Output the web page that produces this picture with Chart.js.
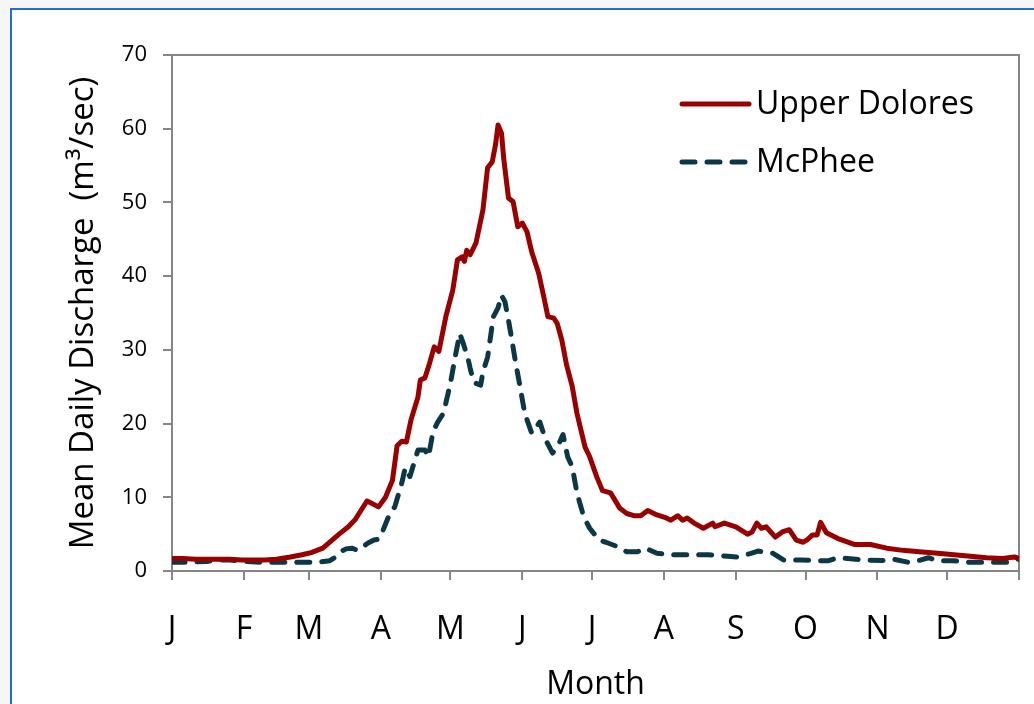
<!DOCTYPE html>
<html>
<head>
<meta charset="utf-8">
<script src="https://cdn.jsdelivr.net/npm/chart.js@4.4.0/dist/chart.umd.min.js"></script>
<style>
  html, body { margin: 0; padding: 0; background: #f6f6f6; }
  #wrap { position: relative; width: 1034px; height: 704px; overflow: hidden; }
  #frame { position: absolute; left: 10px; top: 8px; width: 1100px; height: 800px;
           background: #fff; border-left: 2px solid #1f6fce; border-top: 2px solid #1f6fce; }
  #flowChart { position: absolute; left: 0; top: 0; }
</style>
</head>
<body>
<div id="wrap">
  <div id="frame"></div>
  <canvas id="flowChart" width="1034" height="704"></canvas>
</div>
<script>
// ========== DATA ==========
const monthStarts = [0, 31, 59, 90, 120, 151, 181, 212, 243, 273, 304, 334, 365];
const monthLabels = ['J', 'F', 'M', 'A', 'M', 'J', 'J', 'A', 'S', 'O', 'N', 'D', ''];
const yTicks = [0, 10, 20, 30, 40, 50, 60, 70];

// Upper Dolores (day of year, m3/sec)
const doloresDays = [0, 5, 10, 15, 20, 25, 30, 35, 40, 45, 51, 56, 60, 65, 69, 72, 76, 79, 81, 84,
  86, 89, 92, 95, 97, 99, 101, 103, 106, 107, 109, 111, 113, 115, 118, 121, 123, 125, 126, 127,
  128.5, 131, 134, 136, 138, 139.5, 140.5, 142, 143, 145, 147, 149, 151, 153, 155, 158, 160, 162, 164.5, 166,
  168, 170, 172.5, 174.5, 178, 180, 183, 185.5, 189, 193, 196, 199, 202, 205, 209, 213, 215, 218, 220, 222,
  225, 229, 233, 234, 238, 243, 248, 250, 252, 254, 256, 260, 263, 266, 269, 272, 274, 276, 278, 279.5,
  282, 287, 294, 301, 308, 315, 322, 330, 337, 344, 351, 358, 363, 365];
const doloresQ = [1.7, 1.7, 1.6, 1.6, 1.6, 1.6, 1.5, 1.5, 1.5, 1.6, 1.9, 2.2, 2.5, 3.1, 4.2, 5.0, 6.0, 7.0, 8.0, 9.5,
  9.2, 8.7, 10.0, 12.3, 17.0, 17.6, 17.5, 20.5, 23.6, 25.9, 26.2, 28.2, 30.4, 29.8, 34.5, 38.1, 42.2, 42.6, 42.0, 43.5,
  42.9, 44.5, 49.0, 54.7, 55.5, 58.0, 60.5, 59.4, 55.8, 50.6, 50.1, 46.7, 47.2, 46.0, 43.3, 40.4, 37.5, 34.5, 34.3, 33.6,
  31.3, 28.0, 25.0, 21.4, 16.8, 15.5, 12.8, 10.9, 10.6, 8.5, 7.8, 7.5, 7.5, 8.2, 7.6, 7.2, 6.9, 7.5, 6.9, 7.2,
  6.5, 5.8, 6.5, 6.0, 6.5, 6.0, 5.0, 5.3, 6.5, 5.8, 6.0, 4.6, 5.3, 5.6, 4.2, 3.9, 4.3, 4.9, 4.9, 6.6,
  5.2, 4.4, 3.6, 3.6, 3.1, 2.8, 2.6, 2.4, 2.2, 2.0, 1.8, 1.7, 1.9, 1.7];

// McPhee (day of year, m3/sec)
const mcpheeDays = [0, 8, 15, 20, 25, 30, 38, 45, 51, 58, 63, 68, 70, 72.5, 75, 77.5, 80, 84.5, 87, 89,
  90.5, 94, 96, 99, 100.5, 102.5, 106, 109, 110.5, 112.5, 114.5, 117, 120, 122, 124, 125.5, 127.5, 128.5, 130, 133,
  134, 136, 138.5, 140.5, 142, 143.5, 145, 146.5, 148, 150, 152, 155, 158.5, 161, 164, 166.5, 168.5, 170.5, 172.5, 174.5,
  177.5, 180, 184, 187, 192, 196, 200.5, 204, 209, 216, 224, 231, 239.5, 244, 249.5, 252.5, 255, 259, 263.5, 271,
  279.5, 283, 287, 298, 308.5, 311, 317, 321.5, 326, 330, 337, 343, 351.5, 360, 363, 365];
const mcpheeQ = [1.2, 1.2, 1.3, 1.5, 1.5, 1.3, 1.2, 1.2, 1.2, 1.2, 1.2, 1.4, 1.8, 2.6, 3.0, 3.1, 2.8, 3.8, 4.2, 4.3,
  5.2, 7.9, 8.7, 11.9, 14.0, 12.8, 16.4, 16.4, 15.5, 18.9, 20.2, 21.4, 25.5, 29.0, 32.2, 30.9, 28.9, 27.5, 25.6, 25.2,
  27.0, 29.0, 34.5, 35.7, 37.4, 36.5, 34.0, 31.3, 28.4, 25.0, 21.4, 18.7, 20.2, 17.8, 16.0, 17.1, 18.5, 15.5, 14.1, 10.6,
  7.3, 5.8, 4.2, 3.9, 3.3, 2.6, 2.6, 3.1, 2.4, 2.2, 2.2, 2.2, 2.0, 1.9, 2.4, 2.7, 2.6, 2.4, 1.5, 1.5,
  1.4, 1.4, 1.8, 1.5, 1.4, 1.6, 1.2, 1.4, 1.8, 1.4, 1.4, 1.2, 1.2, 1.2, 1.5, 1.6];

const FONT = "'Open Sans', 'DejaVu Sans', sans-serif";
const AXIS_GREY = '#868686';

// ========== PLUGINS ==========
// box round the plot area (top + right edges)
const plotFrame = {
    id: 'plotFrame',
    beforeDatasetsDraw(chart) {
        const a = chart.chartArea;
        const ctx = chart.ctx;
        ctx.save();
        ctx.strokeStyle = AXIS_GREY;
        ctx.lineWidth = 2;
        ctx.strokeRect(a.left, a.top, a.right - a.left, a.bottom - a.top);
        ctx.restore();
    }
};

// legend drawn inside the plot, top right
const insideLegend = {
    id: 'insideLegend',
    afterDraw(chart) {
        const ctx = chart.ctx;
        const rows = [104, 162];
        chart.data.datasets.forEach((ds, i) => {
            const y = rows[i];
            ctx.save();
            ctx.strokeStyle = ds.borderColor;
            ctx.lineWidth = ds.borderWidth;
            ctx.lineCap = 'round';
            ctx.setLineDash(ds.borderDash || []);
            ctx.beginPath();
            ctx.moveTo(682, y);
            ctx.lineTo(749, y);
            ctx.stroke();
            ctx.setLineDash([]);
            ctx.fillStyle = '#000';
            ctx.font = '32px ' + FONT;
            ctx.textBaseline = 'middle';
            ctx.fillText(ds.label, 756, y + 1);
            ctx.restore();
        });
    }
};

// ========== CHART ==========
const ctx = document.getElementById('flowChart').getContext('2d');
new Chart(ctx, {
    type: 'line',
    data: {
        datasets: [
            {
                label: 'Upper Dolores',
                data: doloresDays.map((d, i) => ({ x: d, y: doloresQ[i] })),
                borderColor: '#990000',
                borderWidth: 5,
                borderCapStyle: 'round',
                borderJoinStyle: 'round',
                pointRadius: 0,
                tension: 0,
                fill: false
            },
            {
                label: 'McPhee',
                data: mcpheeDays.map((d, i) => ({ x: d, y: mcpheeQ[i] })),
                borderColor: '#0b3746',
                borderWidth: 5,
                borderDash: [13, 12],
                borderCapStyle: 'round',
                borderJoinStyle: 'round',
                pointRadius: 0,
                tension: 0,
                fill: false
            }
        ]
    },
    options: {
        responsive: false,
        animation: false,
        devicePixelRatio: 1,
        layout: { padding: { left: 0, top: 55, right: 15, bottom: 0 } },
        plugins: {
            legend: { display: false },
            tooltip: { enabled: false }
        },
        scales: {
            x: {
                type: 'linear',
                min: 0,
                max: 365,
                afterBuildTicks(scale) {
                    scale.ticks = monthStarts.map(v => ({ value: v }));
                },
                afterFit(scale) {
                    scale.height = 133;
                    scale.paddingLeft = 0;
                    scale.paddingRight = 0;
                },
                ticks: {
                    autoSkip: false,
                    maxRotation: 0,
                    padding: 31,
                    color: '#000',
                    font: { family: FONT, size: 32 },
                    callback: (v) => monthLabels[monthStarts.indexOf(v)]
                },
                grid: { drawOnChartArea: false, tickLength: 9, color: AXIS_GREY, lineWidth: 2 },
                border: { color: AXIS_GREY, width: 2 },
                title: {
                    display: true,
                    text: 'Month',
                    color: '#000',
                    font: { family: FONT, size: 32 },
                    padding: { top: 0, bottom: 0 }
                }
            },
            y: {
                min: 0,
                max: 70,
                afterBuildTicks(scale) {
                    scale.ticks = yTicks.map(v => ({ value: v }));
                },
                afterFit(scale) { scale.width = 172; },
                ticks: {
                    padding: 16,
                    color: '#000',
                    font: { family: FONT, size: 22 }
                },
                grid: { drawOnChartArea: false, tickLength: 9, color: AXIS_GREY, lineWidth: 2 },
                border: { color: AXIS_GREY, width: 2 },
                title: {
                    display: true,
                    text: 'Mean Daily Discharge  (m³/sec)',
                    color: '#000',
                    font: { family: FONT, size: 33 },
                    padding: { top: 64, bottom: 0 }
                }
            }
        }
    },
    plugins: [plotFrame, insideLegend]
});
</script>
</body>
</html>
